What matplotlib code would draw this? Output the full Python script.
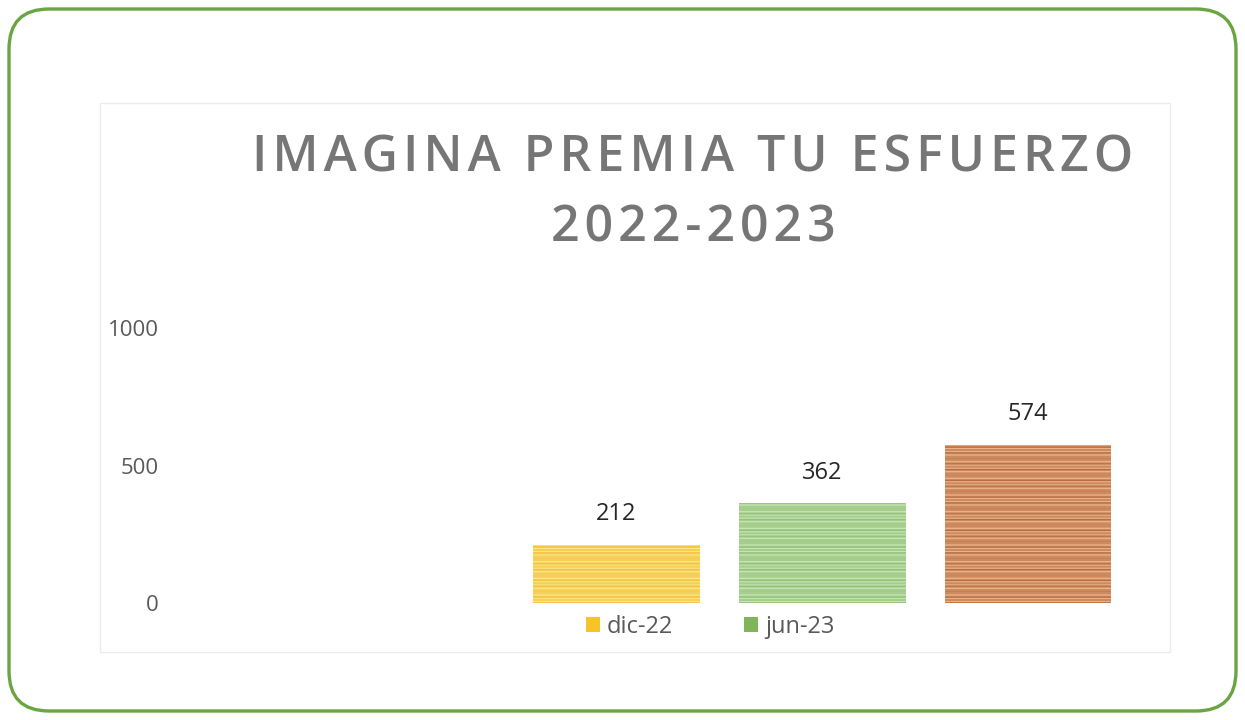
import matplotlib.pyplot as plt
from matplotlib.patches import FancyBboxPatch, Rectangle, Patch
from matplotlib.transforms import IdentityTransform

# data
periods = ["dic-22", "jun-23", "dic-23"]
values = [212, 362, 574]
colors = ["#f7cf52", "#a4ce8b", "#cf8a5b"]
light_stripes = ["#fde58c", "#c8e4b5", "#eab48e"]
dark_stripes = ["#edbb34", "#88b96c", "#a85c33"]
legend_colors = ["#f5c32a", "#7fb65a"]
yticks = [0, 500, 1000]
title_lines = ["IMAGINA PREMIA TU ESFUERZO", "2022-2023"]

plt.rcParams['font.family'] = ['Open Sans', 'DejaVu Sans']
plt.rcParams['hatch.linewidth'] = 0.9

W, H = 1245.0, 720.0
fig = plt.figure(figsize=(12.45, 7.2), dpi=100)

# green rounded border (pixel coordinates, y from bottom)
border = FancyBboxPatch((9, 9), 1227, 702,
                        boxstyle="round,pad=0,rounding_size=40",
                        transform=IdentityTransform(), facecolor="white",
                        edgecolor="#6aa544", linewidth=2.4, zorder=-10)
fig.patches.append(border)

# faint chart area frame
frame = Rectangle((100, 720 - 652), 1070, 549,
                  transform=IdentityTransform(), facecolor="none",
                  edgecolor="#ececec", linewidth=1.0, zorder=-9)
fig.patches.append(frame)

ax = fig.add_axes([170 / W, (720 - 603) / H, 1000 / W, 275 / H])
ax.patch.set_alpha(0)

x = list(range(len(values)))
bars = ax.bar(x, values, width=0.81, color=colors, edgecolor="none")
for xi, v, lc, dc in zip(x, values, light_stripes, dark_stripes):
    ax.bar(xi, v, width=0.81, color="none", edgecolor=lc,
           hatch="-----", linewidth=0)
    ax.bar(xi, v, width=0.81, color="none", edgecolor=dc,
           hatch="---", linewidth=0, alpha=0.6)

for xi, v in zip(x, values):
    ax.text(xi, v + 112, str(v), ha="center", va="center",
            fontsize=17, color="#262626")

ax.set_xlim(-2.17, 2.69)
ax.set_ylim(0, 1000)
ax.set_yticks(yticks)
ax.set_yticklabels([str(t) for t in yticks], fontsize=16, color="#595959")
ax.set_xticks([])
ax.tick_params(axis="y", length=0, pad=8)
for s in ax.spines.values():
    s.set_visible(False)

# title with letter spacing (hair spaces between letters)
def spaced(s):
    return "\u200a".join(s)

fig.text(693 / W, (720 - 159) / H, spaced(title_lines[0]), ha="center",
         va="center", fontsize=36, fontweight="semibold", color="#767676")
fig.text(693 / W, (720 - 228) / H, spaced(title_lines[1]), ha="center",
         va="center", fontsize=36, fontweight="semibold", color="#767676")

handles = [Patch(facecolor=c, edgecolor="none") for c in legend_colors]
fig.legend(handles, periods[:2], loc="center", ncol=2,
           bbox_to_anchor=(710 / W, (720 - 627) / H), frameon=False,
           fontsize=17, handlelength=0.6, handleheight=0.6,
           handletextpad=0.3, columnspacing=3.0, labelcolor="#595959")

plt.savefig("out.png", format="png", dpi=100)
plt.close()
